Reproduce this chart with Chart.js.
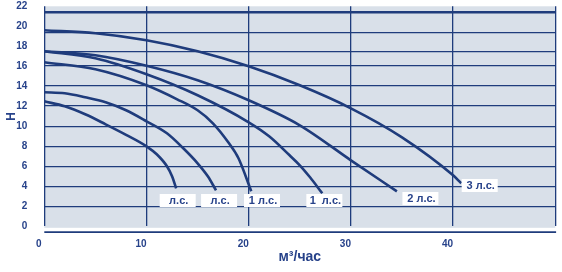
<!DOCTYPE html>
<html lang="ru">
<head>
<meta charset="UTF-8">
<title>Характеристики насосов</title>
<script src="https://cdn.jsdelivr.net/npm/chart.js"></script>
<style>
  html, body { margin: 0; padding: 0; background: #fff; }
  #wrap { width: 562px; height: 272px; }
</style>
</head>
<body>
<div id="wrap"><canvas id="grafico"></canvas></div>
<script>
// подписи осей
const flowTicks = [0, 10, 20, 30, 40];
const headTicks = [0, 2, 4, 6, 8, 10, 12, 14, 16, 18, 20, 22];
// горизонтальные линии сетки (как на исходной картинке, не ровно по делениям)
const gridLevels = [2, 4, 6, 8, 10, 12.1, 14.1, 16.1, 17.45, 19.4, 21.43];

// кривые Q-H, м3/час и м
const flow3hp = [0, 5, 10, 15, 20, 25, 30, 35, 40, 40.8];
const head3hp = [19.6, 19.3, 18.6, 17.5, 16.0, 14.1, 11.8, 8.9, 5.1, 4.3];

const flow2hp = [0, 5, 10, 15, 20, 25, 30, 34.5];
const head2hp = [17.5, 17.1, 16.05, 14.6, 12.6, 10.1, 6.6, 3.5];

const flow1hpB = [0, 5, 10, 15, 20, 22, 24, 25, 26, 27.2];
const head1hpB = [17.5, 16.8, 15.2, 13.1, 10.4, 9.0, 7.1, 6.1, 4.9, 3.3];

const flow1hpA = [0, 5, 10, 13, 15, 16.5, 18, 19, 20.25];
const head1hpA = [16.4, 15.7, 14.1, 12.7, 11.6, 10.3, 8.4, 6.8, 3.5];

const flowB = [0, 2, 4, 6, 8, 10, 12, 13.5, 15, 16, 16.8];
const headB = [13.4, 13.3, 12.9, 12.4, 11.6, 10.5, 9.3, 7.9, 6.3, 5.0, 3.6];

const flowA = [0, 2, 4, 6, 8, 10, 11, 12, 12.5, 12.9];
const headA = [12.5, 12.0, 11.2, 10.2, 9.15, 8.0, 7.2, 6.0, 5.0, 3.8];

// подписи мощности у концов кривых
const tagText = ['л.с.', 'л.с.', '1 л.с.', '1  л.с.', '2 л.с.', '3 л.с.'];
const tagX = [13.15, 17.2, 21.4, 27.5, 36.9, 42.7];
const tagY = [2.58, 2.58, 2.58, 2.58, 2.78, 4.08];

const azul = '#1f3c7c';
const texto = '#27428a';
const fonte = '"Liberation Sans", Arial, sans-serif';

const curvas = [
    [flow3hp, head3hp], [flow2hp, head2hp], [flow1hpB, head1hpB],
    [flow1hpA, head1hpA], [flowB, headB], [flowA, headA]
];

const datasets = curvas.map(([q, h]) => ({
    data: q.map((v, i) => ({ x: v, y: h[i] })),
    showLine: true,
    borderColor: azul,
    borderWidth: 2.6,
    pointRadius: 0,
    cubicInterpolationMode: 'monotone',
    tension: 0.4
}));

// fundo cinza-azulado e linha inferior
const fundo = {
    id: 'fundo',
    beforeDraw(chart) {
        const { ctx, chartArea: a } = chart;
        ctx.save();
        ctx.fillStyle = '#d9e0e9';
        ctx.fillRect(a.left, a.top, a.right - a.left, a.bottom - a.top + 1.5);
        ctx.strokeStyle = azul;
        ctx.lineWidth = 1.6;
        ctx.beginPath();
        ctx.moveTo(a.left, a.bottom + 5.8);
        ctx.lineTo(a.right + 0.8, a.bottom + 5.8);
        ctx.stroke();
        ctx.restore();
    }
};

// caixas brancas com o texto "л.с."
const etiquetas = {
    id: 'etiquetas',
    afterDatasetsDraw(chart) {
        const { ctx, scales: { x, y } } = chart;
        ctx.save();
        ctx.font = 'bold 11px ' + fonte;
        ctx.textAlign = 'center';
        ctx.textBaseline = 'middle';
        tagText.forEach((t, i) => {
            const px = x.getPixelForValue(tagX[i]);
            const py = y.getPixelForValue(tagY[i]);
            ctx.fillStyle = '#fff';
            ctx.fillRect(px - 19, py - 6.5, 36, 13);
            ctx.fillStyle = texto;
            ctx.fillText(t, px, py + 0.5);
        });
        ctx.restore();
    }
};

new Chart(document.getElementById('grafico'), {
    type: 'scatter',
    data: { datasets: datasets },
    plugins: [fundo, etiquetas],
    options: {
        responsive: true,
        maintainAspectRatio: false,
        animation: false,
        layout: { padding: { left: 0, right: 6.7, top: 6.3, bottom: 0 } },
        plugins: { legend: { display: false }, tooltip: { enabled: false } },
        scales: {
            x: {
                type: 'linear',
                min: 0,
                max: 50,
                afterFit: s => { s.height = 45.7; s.paddingLeft = 0; s.paddingRight = 0; },
                border: { display: false },
                grid: { color: azul, lineWidth: 1.3, drawTicks: false },
                ticks: {
                    stepSize: 10,
                    padding: 12,
                    labelOffset: -5.5,
                    color: texto,
                    font: { family: fonte, size: 10, weight: 'bold' },
                    callback: v => flowTicks.includes(v) ? v : ''
                },
                title: {
                    display: true,
                    text: 'м³/час',
                    color: texto,
                    padding: { top: 0, bottom: 6.5 },
                    font: { family: fonte, size: 14, weight: 'bold' }
                }
            },
            y: {
                min: 0,
                max: 22,
                afterFit: s => { s.width = 44.3; s.paddingTop = 0; s.paddingBottom = 0; },
                border: { display: false },
                grid: { display: false },
                ticks: {
                    stepSize: 2,
                    padding: 9,
                    color: texto,
                    font: { family: fonte, size: 10, weight: 'bold' },
                    callback: v => headTicks.includes(v) ? v : ''
                },
                title: {
                    display: true,
                    text: 'H',
                    color: texto,
                    padding: { top: 4, bottom: 0 },
                    font: { family: fonte, size: 12, weight: 'bold' }
                }
            },
            yGrade: {
                position: 'left',
                min: 0,
                max: 22,
                afterFit: s => { s.width = 0; s.paddingTop = 0; s.paddingBottom = 0; },
                afterBuildTicks: s => { s.ticks = gridLevels.map(v => ({ value: v })); },
                border: { display: false },
                ticks: { display: false },
                grid: {
                    color: azul,
                    drawTicks: false,
                    lineWidth: c => c.tick && c.tick.value > 21 ? 2.6 : 1.3
                }
            }
        }
    }
});
</script>
</body>
</html>
